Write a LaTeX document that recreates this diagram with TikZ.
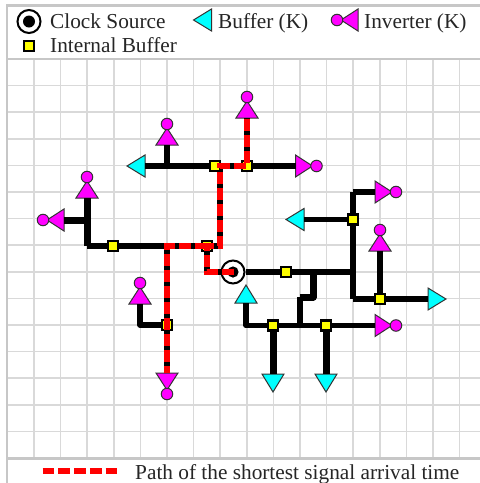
\documentclass[tikz,border=0pt]{standalone}
\usepackage{fontspec}
\setmainfont{Liberation Serif}
\tikzset{
  x=1pt,y=-1pt,
  gridline/.style={draw=black!15,line width=1.6pt},
  frameline/.style={draw=black!22,line width=2.6pt},
  wire/.style={draw=black,line width=5.6pt,line cap=butt,line join=round},
  thickwire/.style={wire,line width=7pt},
  redpath/.style={draw=red,line width=6.6pt,dash pattern=on 12pt off 4pt},
  ibuf/.style={draw=black,fill=yellow,line width=2.4pt,minimum size=10pt,inner sep=0pt,outer sep=0pt,rectangle},
  gatebody/.style={draw=black!80,line width=1pt,line join=miter},
  bubble/.style={draw=black!80,fill=magenta,line width=1pt,circle,minimum size=11.5pt,inner sep=0pt,outer sep=0pt},
  clocksym/.style={circle,draw=black,line width=2pt,fill=white,minimum size=23pt,inner sep=0pt},
  lab/.style={anchor=base west,inner sep=0pt,font=\fontsize{21.3}{24}\selectfont,text=black!85},
}
\definecolor{magenta}{RGB}{255,0,255}
\definecolor{cyan}{RGB}{0,255,255}
\definecolor{yellow}{RGB}{255,255,0}
\newcommand{\bufgate}[3]{%
  \coordinate (#1) at (#2);
  \begin{scope}[shift={(#2)},rotate=#3]
    \draw[gatebody,fill=cyan] (0,-11) -- (18,0) -- (0,11) -- cycle;
  \end{scope}}
\newcommand{\invgate}[3]{%
  \coordinate (#1) at (#2);
  \begin{scope}[shift={(#2)},rotate=#3]
    \draw[gatebody,fill=magenta] (0,-11) -- (17,0) -- (0,11) -- cycle;
    \node[bubble] (#1b) at (21,0) {};
  \end{scope}}
\begin{document}
\begin{tikzpicture}
\useasboundingbox (0,0) rectangle (480,483);
\fill[white] (0,0) rectangle (480,483);
% grid
\foreach \i in {0,...,17} \draw[gridline] ({7.3+26.6*\i},59) -- ({7.3+26.6*\i},458);
\foreach \j in {1,...,14} \draw[gridline] (7,{59+26.6*\j}) -- (480,{59+26.6*\j});
% frames
\draw[frameline] (480,5.5) -- (7,5.5) -- (7,483);
\draw[frameline] (7,59) -- (480,59);
\draw[frameline] (7,458.5) -- (480,458.5);

% anchors of the wires
\coordinate (t1) at (167,166);
\coordinate (jr) at (220,246);
\coordinate (jl) at (167,246);
\coordinate (cc) at (207,272);
\coordinate (lc) at (87,246);
\coordinate (lt) at (87,220);
\coordinate (el) at (140,325);
\coordinate (r1) at (353,272);
\coordinate (rt) at (353,192);
\coordinate (rb) at (353,299);
\coordinate (s1) at (313,272);
\coordinate (s2) at (313,297);
\coordinate (s3) at (300,297);
\coordinate (s4) at (300,325.5);
\coordinate (bl) at (246,325.5);
\coordinate (a1) at (220,166);
\coordinate (cs) at (234,272);

% gates
\bufgate{g1}{145,166}{180}
\invgate{g2}{295.5,166}{0}
\invgate{g3}{167,145}{90}
\invgate{g4}{247,118}{90}
\invgate{g5}{87,198}{90}
\invgate{g6}{64,220}{180}
\invgate{g7}{140,304}{90}
\invgate{g8}{167,373}{-90}
\invgate{g9}{375,192}{0}
\bufgate{g10}{304,219.5}{180}
\invgate{g11}{380,251}{90}
\bufgate{g12}{428,299}{0}
\invgate{g13}{375,325.5}{0}
\bufgate{g14}{246,303}{90}
\bufgate{g15}{273,374}{-90}
\bufgate{g16}{326,374}{-90}

% clock source
\node[clocksym] (clk) at (233,272) {};

% internal buffers positions
\coordinate (A) at (215,166);
\coordinate (B) at (247,166);
\coordinate (C) at (207,246);
\coordinate (D) at (113,246);
\coordinate (E) at (167,325);
\coordinate (F) at (286,272);
\coordinate (G) at (353,219.5);
\coordinate (H) at (380,299);
\coordinate (I) at (273,325.5);
\coordinate (J) at (326,325.5);

% black wires
\draw[wire] (g1) -- (g2);
\draw[wire] (t1) -- (g3);
\draw[wire] (B) -- (g4);
\draw[wire] (a1) -- (jr) -- (lc);
\draw[thickwire] (lc) -- (g5);
\draw[thickwire] (lt) -- (g6);
\draw[wire] (jl) -- (g8);
\draw[wire] (E) -- (el) -- (g7);
\draw[wire] (clk) -- (cc) -- (C);
\draw[wire] (clk) -- (r1);
\draw[wire] (rt) -- (rb);
\draw[wire] (g9) -- (rt);
\draw[wire] (G) -- (g10);
\draw[wire] (rb) -- (g12);
\draw[wire] (H) -- (g11);
\draw[thickwire] (s1) -- (s2) -- (s3);
\draw[wire] (s3) -- (s4);
\draw[wire] (g14) -- (bl) -- (g13);
\draw[thickwire] (I) -- (g15);
\draw[thickwire] (J) -- (g16);

% internal buffers
\node[ibuf] (bA) at (A) {};
\node[ibuf] (bB) at (B) {};
\node[ibuf] (bC) at (C) {};
\node[ibuf] (bD) at (D) {};
\node[ibuf] (bE) at (E) {};
\node[ibuf] (bF) at (F) {};
\node[ibuf] (bG) at (G) {};
\node[ibuf] (bH) at (H) {};
\node[ibuf] (bI) at (I) {};
\node[ibuf] (bJ) at (J) {};
\fill[black] (clk.center) circle (5.6);

% shortest path
\draw[redpath] (cs) -- (cc) -- (C) -- (jr) -- (a1) -- (B) -- (g4);
\draw[redpath] (C) -- (jl) -- (g8);

% legend
\node[clocksym] (lclk) at (29,21.5) {};
\fill[black] (lclk.center) circle (6);
\node[lab] (t1l) at (50,28) {Clock Source};
\bufgate{lg1}{211.5,20}{180}
\node[lab] (t2l) at (218,28) {Buffer (K)};
\invgate{lg2}{358,20}{180}
\node[lab] (t3l) at (364,28) {Inverter (K)};
\node[ibuf] (lbuf) at (29,46) {};
\node[lab] (t4l) at (50,52) {Internal Buffer};
\coordinate (ld1) at (42.5,471);
\coordinate (ld2) at (118,471);
\draw[draw=red,line width=6.5pt,dash pattern=on 11.7pt off 4.1pt] (ld1) -- (ld2);
\node[lab] (t5l) at (135,479) {Path of the shortest signal arrival time};
\end{tikzpicture}
\end{document}
